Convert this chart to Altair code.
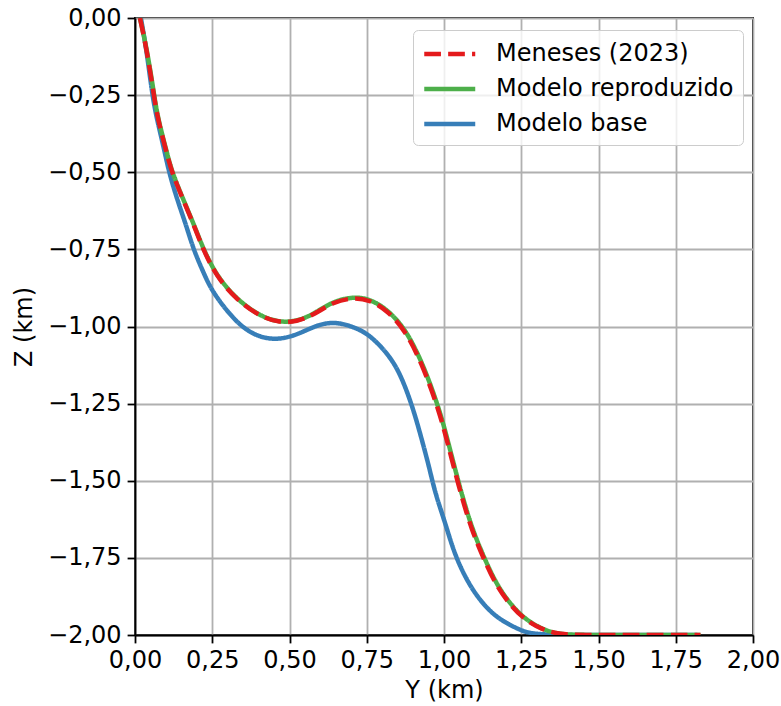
import altair as alt
import pandas as pd

# Meneses (2023)
men_y = [0.016, 0.039, 0.061, 0.073, 0.100, 0.119, 0.156, 0.194, 0.221, 0.264, 0.329, 0.405,
         0.469, 0.523, 0.577, 0.642, 0.707, 0.760, 0.815, 0.874, 0.928, 0.976, 1.001, 1.025,
         1.057, 1.090, 1.125, 1.170, 1.219, 1.262, 1.321, 1.375, 1.45, 1.60, 1.83]
men_z = [0.0, -0.108, -0.25, -0.324, -0.428, -0.5, -0.590, -0.68, -0.752, -0.838, -0.914, -0.968,
         -0.988, -0.984, -0.963, -0.920, -0.906, -0.914, -0.947, -1.011, -1.119, -1.25, -1.336, -1.43,
         -1.552, -1.66, -1.745, -1.843, -1.908, -1.951, -1.984, -1.998, -2.0, -2.0, -2.0]

# Modelo reproduzido
rep_y = [0.016, 0.040, 0.062, 0.074, 0.101, 0.120, 0.157, 0.195, 0.222, 0.265, 0.330, 0.405,
         0.469, 0.523, 0.577, 0.642, 0.712, 0.762, 0.817, 0.876, 0.930, 0.978, 1.003, 1.027,
         1.059, 1.092, 1.127, 1.172, 1.221, 1.264, 1.323, 1.375, 1.45, 1.60, 1.83]
rep_z = [0.0, -0.108, -0.25, -0.324, -0.428, -0.5, -0.590, -0.68, -0.751, -0.837, -0.913, -0.967,
         -0.987, -0.983, -0.961, -0.917, -0.903, -0.912, -0.945, -1.009, -1.117, -1.248, -1.334, -1.428,
         -1.55, -1.658, -1.743, -1.841, -1.907, -1.950, -1.984, -1.998, -2.0, -2.0, -2.0]

# Modelo base
base_y = [0.019, 0.038, 0.056, 0.070, 0.095, 0.110, 0.137, 0.167, 0.189, 0.227, 0.253, 0.329,
          0.394, 0.459, 0.523, 0.588, 0.647, 0.707, 0.750, 0.793, 0.850, 0.895, 0.920, 0.949,
          0.962, 0.978, 1.005, 1.036, 1.084, 1.133, 1.181, 1.246, 1.29, 1.50, 1.82]
base_z = [0.0, -0.108, -0.25, -0.324, -0.428, -0.5, -0.590, -0.676, -0.75, -0.838, -0.892, -0.990,
          -1.033, -1.044, -1.028, -0.995, -0.984, -1.001, -1.022, -1.06, -1.13, -1.25, -1.336, -1.444,
          -1.50, -1.56, -1.64, -1.745, -1.843, -1.908, -1.951, -1.984, -2.0, -2.0, -2.0]

series = ["Meneses (2023)", "Modelo reproduzido", "Modelo base"]
colors = ["#e41a1c", "#4daf4a", "#377eb8"]
dashes = [[16.7, 7.2], [1, 0], [1, 0]]

x_ticks = [0, 0.25, 0.5, 0.75, 1.0, 1.25, 1.5, 1.75, 2.0]
y_ticks = [-2.0, -1.75, -1.5, -1.25, -1.0, -0.75, -0.5, -0.25, 0.0]

rows = []
for name, ys, zs in [(series[0], men_y, men_z), (series[1], rep_y, rep_z), (series[2], base_y, base_z)]:
    for i, (a, b) in enumerate(zip(ys, zs)):
        rows.append({"Y": a, "Z": b, "serie": name, "i": i})
df = pd.DataFrame(rows)

label_expr = "replace(replace(format(datum.value, '.2f'), '.', ','), '-', '\u2212')"
FS = 24

x_enc = alt.X("Y:Q", title="Y (km)",
              scale=alt.Scale(domain=[0, 2], nice=False, zero=False),
              axis=alt.Axis(values=x_ticks, labelExpr=label_expr, labelFlush=False))
y_enc = alt.Y("Z:Q", title="Z (km)",
              scale=alt.Scale(domain=[-2, 0], nice=False, zero=False),
              axis=alt.Axis(values=y_ticks, labelExpr=label_expr))
color_enc = alt.Color("serie:N", title=None,
                      scale=alt.Scale(domain=series, range=colors),
                      legend=alt.Legend(orient="none", legendX=278, legendY=12,
                                        symbolType="M-1,0L3,0", symbolStrokeWidth=4.5,
                                        symbolSize=650, labelFontSize=FS,
                                        labelFont="DejaVu Sans", labelColor="black",
                                        labelOffset=44, rowPadding=8, padding=9,
                                        fillColor="rgba(255,255,255,0.8)",
                                        strokeColor="#cccccc", cornerRadius=5,
                                        labelLimit=400))
dash_enc = alt.StrokeDash("serie:N", title=None,
                          scale=alt.Scale(domain=series, range=dashes),
                          legend=None)

def layer(name):
    return alt.Chart(df).transform_filter(alt.datum.serie == name).mark_line(
        strokeWidth=4.5, interpolate="basis", clip=True
    ).encode(x=x_enc, y=y_enc, color=color_enc, strokeDash=dash_enc, order="i:Q")

chart = alt.layer(layer("Modelo base"), layer("Modelo reproduzido"), layer("Meneses (2023)")).properties(
    width=618, height=617,
    autosize=alt.AutoSizeParams(type="none"),
    padding={"left": 135, "top": 18, "right": 28, "bottom": 71},
).configure_view(
    stroke="black", strokeWidth=1.8
).configure_axis(
    domainColor="black", domainWidth=1.8,
    tickColor="black", tickWidth=1.8, tickSize=7.9,
    labelFontSize=FS, labelFont="DejaVu Sans", labelColor="black", labelPadding=6,
    titleFontSize=FS, titleFont="DejaVu Sans", titleFontWeight="normal", titleColor="black",
    gridColor="#b0b0b0", gridWidth=1.8, labelOverlap=False
).configure_axisY(titlePadding=11).configure_axisX(titlePadding=6)

chart.save("out.html", embed_options={"renderer": "svg", "actions": False})
